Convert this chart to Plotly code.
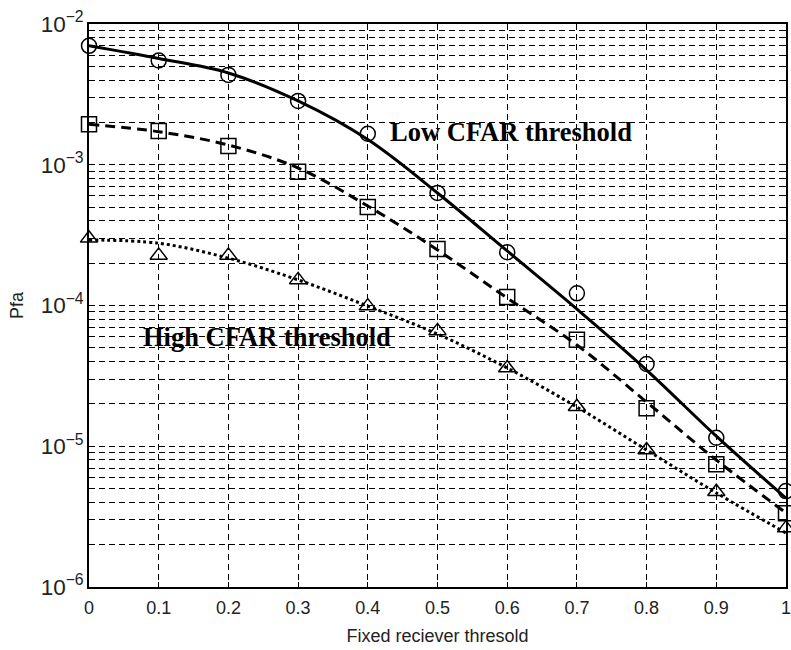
import plotly.graph_objects as go

x = [0.0, 0.1, 0.2, 0.3, 0.4, 0.5, 0.6, 0.7, 0.8, 0.9, 1.0]

# Low CFAR threshold (solid, circles)
low_curve = [7.01e-3, 5.69e-3, 4.49e-3, 2.84e-3, 1.51e-3, 6.30e-4, 2.44e-4, 9.44e-5, 3.48e-5, 1.18e-5, 4.28e-6]
low_sim = [7.0e-3, 5.5e-3, 4.35e-3, 2.84e-3, 1.66e-3, 6.3e-4, 2.39e-4, 1.22e-4, 3.84e-5, 1.15e-5, 4.8e-6]

# Middle (dashed, squares)
mid_curve = [1.938e-3, 1.718e-3, 1.38e-3, 9.48e-4, 5.09e-4, 2.48e-4, 1.13e-4, 5.24e-5, 2.06e-5, 7.98e-6, 3.36e-6]
mid_sim = [1.94e-3, 1.74e-3, 1.36e-3, 8.9e-4, 5.0e-4, 2.52e-4, 1.15e-4, 5.7e-5, 1.86e-5, 7.45e-6, 3.34e-6]

# High CFAR threshold (dotted, triangles)
high_curve = [2.92e-4, 2.77e-4, 2.17e-4, 1.52e-4, 9.91e-5, 6.27e-5, 3.60e-5, 1.90e-5, 9.40e-6, 4.66e-6, 2.42e-6]
high_sim = [3.0e-4, 2.27e-4, 2.27e-4, 1.52e-4, 9.9e-5, 6.6e-5, 3.6e-5, 1.91e-5, 9.4e-6, 4.75e-6, 2.62e-6]

x_ticks = [0, 0.1, 0.2, 0.3, 0.4, 0.5, 0.6, 0.7, 0.8, 0.9, 1]
x_ticklabels = ["0", "0.1", "0.2", "0.3", "0.4", "0.5", "0.6", "0.7", "0.8", "0.9", "1"]

ann_low = ("Low CFAR threshold", 0.606, -2.767)
ann_high = ("High CFAR threshold", 0.256, -4.224)

fig = go.Figure()

def add_pair(curve, sim, dash, symbol):
    fig.add_trace(go.Scatter(x=x, y=curve, mode="lines", line_shape="spline",
                             line=dict(color="black", width=3, dash=dash),
                             showlegend=False, hoverinfo="skip"))
    fig.add_trace(go.Scatter(x=x, y=sim, mode="markers", cliponaxis=False,
                             marker=dict(symbol=symbol, size=15, color="black",
                                         line=dict(color="black", width=1.5)),
                             showlegend=False))

add_pair(low_curve, low_sim, "solid", "circle-open")
add_pair(mid_curve, mid_sim, "10px,6px", "square-open")
add_pair(high_curve, high_sim, "dot", "triangle-up-open")

tick_font = dict(family="Liberation Sans, Arial, sans-serif", size=18, color="#222")
grid = dict(showgrid=True, gridcolor="black", gridwidth=1, griddash="6px,4px")

fig.update_layout(
    width=791, height=650,
    margin=dict(l=89, r=0, t=24, b=63),
    paper_bgcolor="white", plot_bgcolor="white",
    xaxis=dict(range=[0, 1], tickvals=x_ticks, ticktext=x_ticklabels,
               tickfont=tick_font, ticks="inside", ticklen=5, tickcolor="black",
               ticklabeloverflow="allow", ticklabelstandoff=4,
               showline=True, linecolor="black", linewidth=1.5, mirror="ticks",
               zeroline=False,
               title=dict(text="Fixed reciever thresold", font=tick_font, standoff=12),
               **grid),
    yaxis=dict(type="log", range=[-6, -2], dtick=1, exponentformat="power",
               tickfont=tick_font, ticks="inside", ticklen=5, tickcolor="black",
               showline=True, linecolor="black", linewidth=1.5, mirror="ticks",
               zeroline=False,
               minor=dict(showgrid=True, gridcolor="black", gridwidth=1, griddash="6px,4px",
                          ticks="inside", ticklen=3, tickcolor="black"),
               title=dict(text="Pfa", font=tick_font, standoff=12),
               **grid),
)

for text, ax_x, ax_y in (ann_low, ann_high):
    fig.add_annotation(x=ax_x, y=ax_y, xref="x", yref="y", text="<b>%s</b>" % text,
                       showarrow=False,
                       font=dict(family="Liberation Serif, Times New Roman, serif", size=26.5, color="black"))

fig.write_html("out.html")
